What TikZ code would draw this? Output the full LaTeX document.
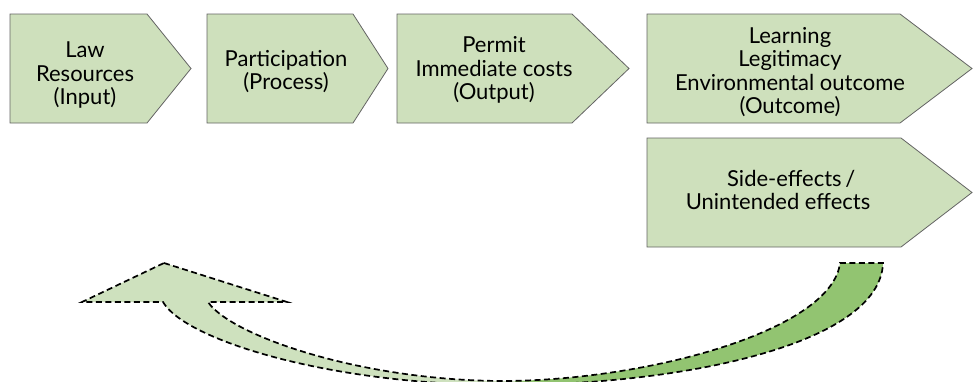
\documentclass[tikz,border=0pt]{standalone}
\usepackage{fontspec}
\setmainfont{Lato}
\definecolor{boxfill}{RGB}{206,224,188}
\definecolor{boxline}{RGB}{100,100,100}
\definecolor{arrowlight}{RGB}{206,225,190}
\definecolor{arrowdark}{RGB}{146,196,113}
\tikzset{
  pent/.style={fill=boxfill,draw=boxline,line width=0.8pt,line join=miter},
  lbl/.style={font=\fontsize{22}{23.5}\selectfont,align=center,text=black,inner sep=0pt},
  fb/.style={draw=black,line width=1.7pt,dash pattern=on 6pt off 3.5pt}
}
\newcommand\homeplate[5]{%
  \path[pent] (#1,#2) -- (#4,#2) -- (#5,{(#2+#3)/2}) -- (#4,#3) -- (#1,#3) -- cycle;}
\newcommand\backarrowpath{(164,263) -- (287,302) -- (208,302)
  .. controls (230,335) and (360,381) .. (505,381)
  .. controls (650,380) and (832,330) .. (840,263)
  -- (883,263)
  .. controls (880,345) and (680,385) .. (505,385)
  .. controls (330,385) and (185,340) .. (163,302)
  -- (82,302) -- cycle}
\begin{document}
\begin{tikzpicture}[x=1pt,y=-1pt]
\useasboundingbox (0,0) rectangle (973,381);
\clip (0,0) rectangle (973,381);
\homeplate{10}{14}{123}{147}{191}
\homeplate{207}{14}{123}{353}{388}
\homeplate{397}{14}{123}{572}{629}
\homeplate{647}{14}{123}{900}{972}
\homeplate{647}{138}{247}{901}{972}
\node[lbl] (input) at (85,75) {Law\\Resources\\(Input)};
\node[lbl] (process) at (286,71.5) {Participation\\(Process)};
\node[lbl] (output) at (494,70) {Permit\\Immediate costs\\(Output)};
\node[lbl] (outcome) at (790,72) {Learning\\Legitimacy\\Environmental outcome\\(Outcome)};
\node[lbl] (side) at (778,190) {\hspace*{1.2em}Side-effects\,/\\Unintended effects};
\begin{scope}
  \clip (0,0) rectangle (515,381);
  \fill[arrowlight] \backarrowpath;
\end{scope}
\begin{scope}
  \clip (515,0) rectangle (973,381);
  \fill[arrowdark] \backarrowpath;
\end{scope}
\path[fb] \backarrowpath;
\end{tikzpicture}
\end{document}
